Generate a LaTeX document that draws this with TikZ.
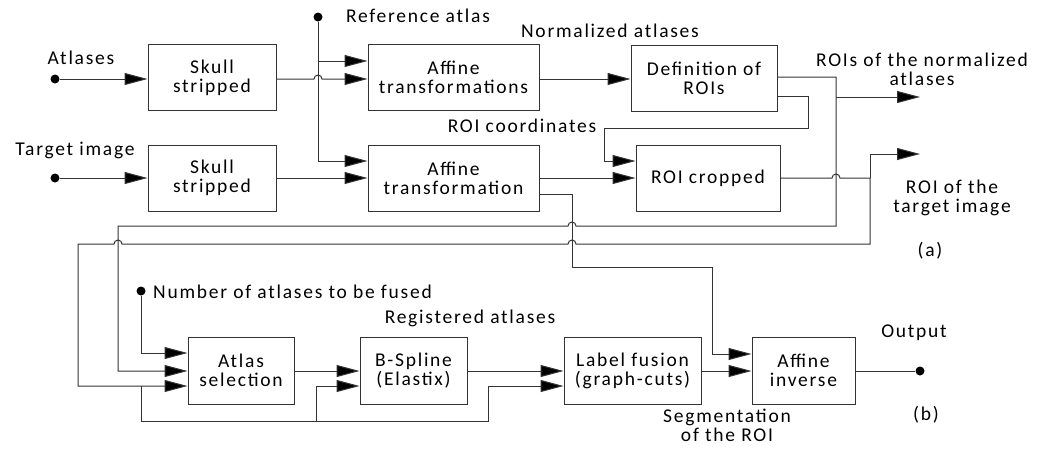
\documentclass[tikz,border=0pt]{standalone}
\usepackage{fontspec}
\setmainfont{Carlito}[LetterSpace=9]
\usetikzlibrary{arrows.meta,calc}
\begin{document}
\begin{tikzpicture}[x=1pt,y=-1pt,
  every node/.style={font=\fontsize{19.5}{19}\selectfont, text=black},
  wire/.style={draw=black!80, line width=1pt},
  arr/.style={wire, -{Triangle[length=23pt,width=12pt,fill=black]}},
  blk/.style={draw=black!80, line width=1pt, align=center, inner sep=0pt, minimum height=66pt},
  lbl/.style={align=center, inner sep=0pt},
  dot/.style={circle, fill=black, inner sep=0pt, minimum size=9pt}]
\useasboundingbox (0,0) rectangle (1037,451);
% blocks
\node[blk, minimum width=128pt] (sk1) at (212,77.5) {Skull\\stripped};
\node[blk, minimum width=128pt] (sk2) at (212,178) {Skull\\stripped};
\node[blk, minimum width=171pt] (af1) at (453.5,77.5) {Affine\\transformations};
\node[blk, minimum width=171pt] (af2) at (453.5,178) {Affine\\transformation};
\node[blk, minimum width=146pt] (def) at (704,78) {Definition of\\ROIs};
\node[blk, minimum width=144pt] (crop) at (708,178) {ROI cropped};
\node[blk, minimum width=106pt, minimum height=67pt] (sel) at (241,370.5) {Atlas\\selection};
\node[blk, minimum width=107pt, minimum height=67pt] (bs) at (413.5,370.5) {B-Spline\\(Elastix)};
\node[blk, minimum width=137pt, minimum height=67pt] (lf) at (632.5,370.5) {Label fusion\\(graph-cuts)};
\node[blk, minimum width=103pt, minimum height=67pt] (inv) at (803.5,370.5) {Affine\\inverse};
% terminals
\node[dot] (in1) at (55,79) {};
\node[dot] (in2) at (55,178) {};
\node[dot] (ref) at (318,17) {};
\node[dot] (num) at (141,291) {};
\node[dot] (out) at (920,371) {};
\coordinate (roisout) at (920,97);
\coordinate (roiout) at (920,154);
% labels
\node[lbl] at (81,58) {Atlases};
\node[lbl] at (75,150) {Target image};
\node[lbl] at (418,16) {Reference atlas};
\node[lbl] at (610,31) {Normalized atlases};
\node[lbl] at (922,69) {ROIs of the normalized\\atlases};
\node[lbl] at (522,126) {ROI coordinates};
\node[lbl] at (952,198) {ROI of the\\target image};
\node[lbl] at (930,251) {(a)};
\node[lbl, anchor=west] at (153,292) {Number of atlases to be fused};
\node[lbl] at (470,318) {Registered atlases};
\node[lbl] at (727,425) {Segmentation\\of the ROI};
\node[lbl] at (914,333) {Output};
\node[lbl] at (926,415) {(b)};
% connectors top
\draw[arr] (in1) -- (sk1.west |- in1);
\draw[arr] (in2) -- (sk2.west |- in2);
\draw[arr] (ref) |- (af2.west |- 0,161);
\draw[arr] (ref |- 0,61) -- (af1.west |- 0,61);
\draw[arr] (sk1.east |- 0,79) -- (314,79) arc[start angle=180,end angle=0,radius=4pt] -- (af1.west |- 0,79);
\draw[arr] (sk2.east |- in2) -- (af2.west |- in2);
\draw[arr] (af1.east |- 0,79) -- (def.west |- 0,79);
\draw[arr] (def.east |- 0,77) -| (836,226) -- (576,226) arc[start angle=0,end angle=180,radius=4pt] -- (118,226) |- (sel.west |- 0,371);
\draw[arr] (836,97) -- (roisout);
\draw[arr] (def.east |- 0,96) -| (808,128) -| (604,161) -- (crop.west |- 0,161);
\draw[arr] (af2.east |- 0,178) -- (crop.west |- 0,178);
\draw[arr] (af2.east |- 0,194) -| (572,267) -| (712,354) -- (inv.west |- 0,354);
\draw[wire] (crop.east |- 0,178) -- (832,178) arc[start angle=180,end angle=0,radius=4pt] -- (870,178);
\draw[arr] (870,178) |- (roiout);
\draw[arr] (870,178) |- (576,244) arc[start angle=0,end angle=180,radius=4pt] -- (122,244) arc[start angle=0,end angle=180,radius=4pt] -- (78,244) |- (sel.west |- 0,386);
% connectors bottom
\draw[arr] (num) |- (sel.west |- 0,353);
\draw[arr] (141,386) |- (488,421) |- (lf.west |- 0,386);
\draw[arr] (316,421) |- (bs.west |- 0,386);
\draw[arr] (sel.east |- 0,371) -- (bs.west |- 0,371);
\draw[arr] (bs.east |- 0,371) -- (lf.west |- 0,371);
\draw[arr] (lf.east |- 0,371) -- (inv.west |- 0,371);
\draw[wire] (inv.east |- 0,371) -- (out);
\end{tikzpicture}
\end{document}
